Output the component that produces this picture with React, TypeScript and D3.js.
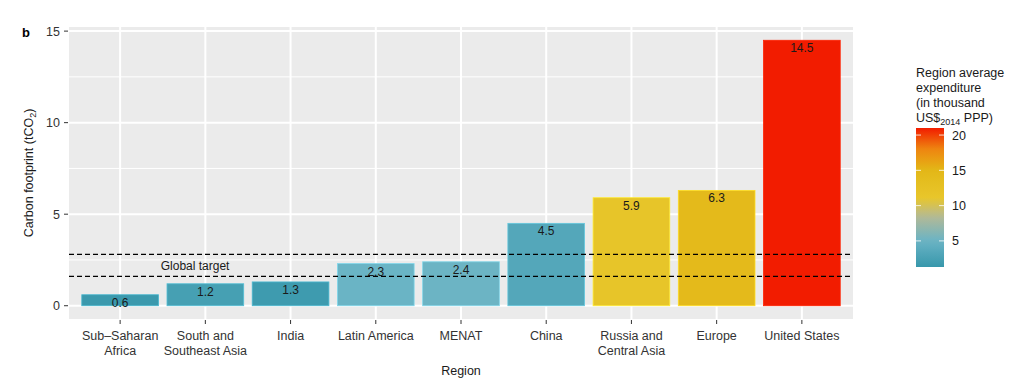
import { useEffect, useRef } from 'react';
import * as d3 from 'd3';

const regions = [
    ['Sub\u2013Saharan', 'Africa'],
    ['South and', 'Southeast Asia'],
    ['India'],
    ['Latin America'],
    ['MENAT'],
    ['China'],
    ['Russia and', 'Central Asia'],
    ['Europe'],
    ['United States'],
];
const footprint = [0.6, 1.2, 1.3, 2.3, 2.4, 4.5, 5.9, 6.3, 14.5];
// region average expenditure, thousand US$2014 PPP
const expenditure = [1.6, 2.4, 1.8, 5.0, 5.1, 3.4, 11.6, 14.2, 21];
const targets = [1.6, 2.8];
const yTicks = [0, 5, 10, 15];
const legendTicks = [5, 10, 15, 20];

const colorStops = [1.3, 5, 8.5, 11, 15, 18, 21];
const colorRange = ['#3797ab', '#6ab4c5', '#b5b995', '#e8c72c', '#e3b717', '#ee8610', '#f21c00'];

const font = '"Liberation Sans", Arial, sans-serif';

const App = () => {
    const ref = useRef<SVGSVGElement>(null);

    useEffect(() => {
        const svg = d3.select(ref.current);
        svg.selectAll('*').remove();

        const left = 69, right = 853, top = 27, bottom = 319;
        const yMin = -0.725, yMax = 15.225;

        // ggplot-style discrete axis: 0.6 units of expansion on each side, bar width 0.9
        const x = d3.scaleBand()
            .domain(regions.map((_, i) => String(i)))
            .range([left, right])
            .paddingInner(0.1)
            .paddingOuter(0.15);
        const xc = (i) => x(String(i)) + x.bandwidth() / 2;
        const step = x.step();

        const y = d3.scaleLinear().domain([yMin, yMax]).range([bottom, top]);

        const color = d3.scaleLinear<string>()
            .domain(colorStops)
            .range(colorRange)
            .interpolate(d3.interpolateRgb);

        // panel
        svg.append('rect')
            .attr('x', left).attr('y', top)
            .attr('width', right - left).attr('height', bottom - top)
            .attr('fill', '#ebebeb');

        const minor = [2.5, 7.5, 12.5];
        svg.append('g').selectAll('line').data(minor).enter().append('line')
            .attr('x1', left).attr('x2', right)
            .attr('y1', d => y(d)).attr('y2', d => y(d))
            .attr('stroke', '#fff').attr('stroke-width', 1);
        svg.append('g').selectAll('line').data(yTicks).enter().append('line')
            .attr('x1', left).attr('x2', right)
            .attr('y1', d => y(d)).attr('y2', d => y(d))
            .attr('stroke', '#fff').attr('stroke-width', 2);
        svg.append('g').selectAll('line').data(regions).enter().append('line')
            .attr('x1', (_, i) => xc(i)).attr('x2', (_, i) => xc(i))
            .attr('y1', top).attr('y2', bottom)
            .attr('stroke', '#fff').attr('stroke-width', 2);

        // bars
        svg.append('g').selectAll('rect').data(footprint).enter().append('rect')
            .attr('x', (_, i) => x(String(i)))
            .attr('y', d => y(d))
            .attr('width', x.bandwidth())
            .attr('height', d => y(0) - y(d))
            .attr('fill', (_, i) => color(expenditure[i]))
            .attr('stroke', (_, i) => d3.color(color(expenditure[i])).brighter(0.5).formatHex())
            .attr('stroke-width', 0.8);

        svg.append('g').selectAll('text').data(footprint).enter().append('text')
            .attr('x', (_, i) => xc(i))
            .attr('y', d => y(d) + 12)
            .attr('text-anchor', 'middle')
            .attr('font-family', font).attr('font-size', 12)
            .attr('fill', '#1a1a1a')
            .text(d => d.toFixed(1));

        // target lines
        svg.append('g').selectAll('line').data(targets).enter().append('line')
            .attr('x1', left).attr('x2', right)
            .attr('y1', d => y(d)).attr('y2', d => y(d))
            .attr('stroke', '#000').attr('stroke-width', 1.3)
            .attr('stroke-dasharray', '5,3');
        svg.append('text')
            .attr('x', xc(0) + 0.88 * step)
            .attr('y', y(d3.mean(targets)) + 5)
            .attr('text-anchor', 'middle')
            .attr('font-family', font).attr('font-size', 12)
            .attr('fill', '#1a1a1a')
            .text('Global target');

        // y axis
        const ya = svg.append('g');
        ya.selectAll('line').data(yTicks).enter().append('line')
            .attr('x1', left - 5).attr('x2', left - 1)
            .attr('y1', d => y(d)).attr('y2', d => y(d))
            .attr('stroke', '#333');
        ya.selectAll('text').data(yTicks).enter().append('text')
            .attr('x', left - 9).attr('y', d => y(d) + 4.5)
            .attr('text-anchor', 'end')
            .attr('font-family', font).attr('font-size', 12.5)
            .attr('fill', '#333')
            .text(d => d);

        const yt = svg.append('text')
            .attr('transform', `translate(33, ${(top + bottom) / 2}) rotate(-90)`)
            .attr('text-anchor', 'middle')
            .attr('font-family', font).attr('font-size', 12.5)
            .attr('fill', '#1a1a1a');
        yt.append('tspan').text('Carbon footprint (tCO');
        yt.append('tspan').attr('font-size', 9).attr('dy', 3).text('2');
        yt.append('tspan').attr('dy', -3).text(')');

        // x axis
        const xa = svg.append('g');
        xa.selectAll('line').data(regions).enter().append('line')
            .attr('x1', (_, i) => xc(i)).attr('x2', (_, i) => xc(i))
            .attr('y1', bottom + 1).attr('y2', bottom + 5)
            .attr('stroke', '#333');
        xa.selectAll('text').data(regions).enter().append('text')
            .attr('x', (_, i) => xc(i))
            .attr('text-anchor', 'middle')
            .attr('font-family', font).attr('font-size', 12.5)
            .attr('fill', '#333')
            .each(function (d, i) {
                d.forEach((line, j) => {
                    d3.select(this).append('tspan')
                        .attr('x', xc(i))
                        .attr('y', 340 + j * 15)
                        .text(line);
                });
            });

        svg.append('text')
            .attr('x', (left + right) / 2).attr('y', 375)
            .attr('text-anchor', 'middle')
            .attr('font-family', font).attr('font-size', 12.5)
            .attr('fill', '#1a1a1a')
            .text('Region');

        svg.append('text')
            .attr('x', 22).attr('y', 37)
            .attr('font-family', font).attr('font-size', 13).attr('font-weight', 'bold')
            .text('b');

        // legend
        const lx = 916, lw = 28, lTop = 128, lBottom = 267;
        const ly = d3.scaleLinear().domain([1.3, 21]).range([lBottom, lTop]);
        const grad = svg.append('defs').append('linearGradient')
            .attr('id', 'exp-grad')
            .attr('x1', 0).attr('x2', 0).attr('y1', 1).attr('y2', 0);
        d3.range(0, 1.0001, 0.05).forEach(t => {
            const v = 1.3 + t * (21 - 1.3);
            grad.append('stop').attr('offset', t).attr('stop-color', color(v));
        });
        svg.append('rect')
            .attr('x', lx).attr('y', lTop)
            .attr('width', lw).attr('height', lBottom - lTop)
            .attr('fill', 'url(#exp-grad)');
        const lg = svg.append('g');
        legendTicks.forEach(t => {
            lg.append('line').attr('x1', lx).attr('x2', lx + 5)
                .attr('y1', ly(t)).attr('y2', ly(t)).attr('stroke', '#fff').attr('stroke-opacity', 0.8);
            lg.append('line').attr('x1', lx + lw - 5).attr('x2', lx + lw)
                .attr('y1', ly(t)).attr('y2', ly(t)).attr('stroke', '#fff').attr('stroke-opacity', 0.8);
            lg.append('text').attr('x', lx + lw + 8).attr('y', ly(t) + 4.5)
                .attr('font-family', font).attr('font-size', 12.5).attr('fill', '#1a1a1a')
                .text(t);
        });
        const titleLines = ['Region average', 'expenditure', '(in thousand'];
        titleLines.forEach((l, i) => {
            svg.append('text').attr('x', lx).attr('y', 77 + i * 15)
                .attr('font-family', font).attr('font-size', 12.5).attr('fill', '#1a1a1a')
                .text(l);
        });
        const last = svg.append('text').attr('x', lx).attr('y', 122)
            .attr('font-family', font).attr('font-size', 12.5).attr('fill', '#1a1a1a');
        last.append('tspan').text('US$');
        last.append('tspan').attr('font-size', 9).attr('dy', 3).text('2014');
        last.append('tspan').attr('dy', -3).text(' PPP)');
    }, []);

    return (
        <svg ref={ref} width={1023} height={390}
            style={{ position: 'absolute', left: 0, top: 0, background: '#fff' }} />
    );
};

export default App;
